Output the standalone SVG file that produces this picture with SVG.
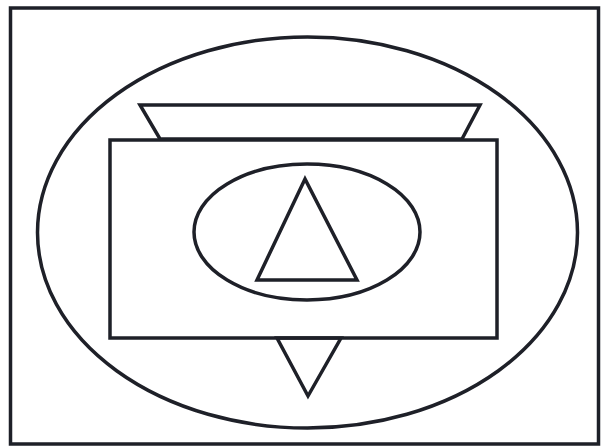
<svg xmlns="http://www.w3.org/2000/svg" width="608" height="447" viewBox="0 0 608 447">
<style>
.s{fill:none;stroke:#1e2028;stroke-width:3.5;stroke-linejoin:miter}
</style>
<rect width="608" height="447" fill="#fff"/>
<rect class="s" x="10.5" y="8" width="588" height="436" stroke-width="3.5"/>
<ellipse class="s" cx="307.5" cy="232.5" rx="270" ry="195.5"/>
<polygon class="s" points="140,105 480,105 462,139 160,139"/>
<polygon class="s" points="277,338 341,338 308,396"/>
<rect class="s" x="110" y="140" width="387" height="198" fill="#fff"/>
<ellipse class="s" cx="307" cy="232" rx="113" ry="68"/>
<polygon class="s" points="305,179 257,280 357,280"/>
</svg>
